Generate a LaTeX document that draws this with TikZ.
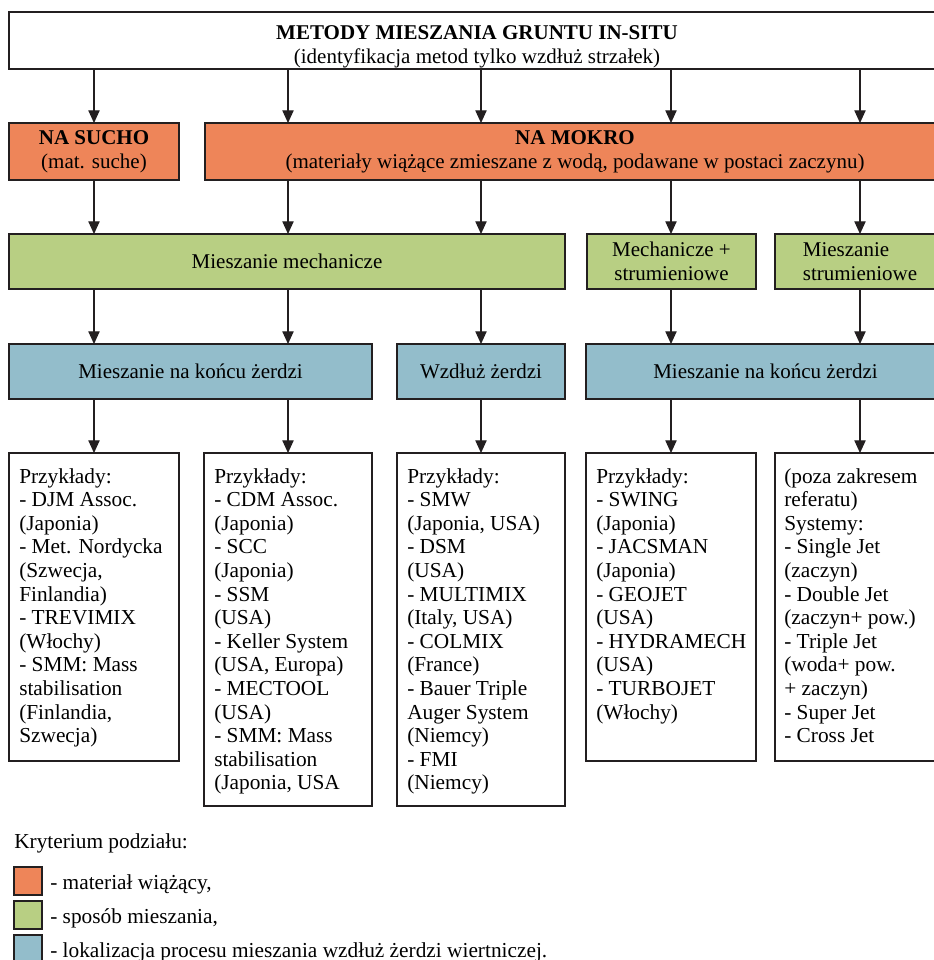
\documentclass[tikz,border=0pt]{standalone}
\usepackage{fontspec}
\setmainfont{Liberation Serif}
\usetikzlibrary{arrows.meta}

\definecolor{matcol}{HTML}{EE8559}
\definecolor{mixcol}{HTML}{B8CF83}
\definecolor{loccol}{HTML}{93BDCB}
\definecolor{linecol}{HTML}{231F20}

\tikzset{
    boxsize/.style 2 args={anchor=north west, outer sep=0pt, minimum width=#1*0.75pt, minimum height=#2*0.75pt},
    box/.style={draw=linecol, line width=2pt, inner sep=0pt, align=center, font=\fontsize{15.75}{18}\selectfont},
    matbox/.style={box, fill=matcol},
    mixbox/.style={box, fill=mixcol},
    locbox/.style={box, fill=loccol},
    exbox/.style={draw=linecol, line width=1.5pt, inner sep=0pt},
    extext/.style={anchor=north west, inner sep=0pt, align=left, font=\fontsize{16}{17.7}\selectfont},
    arr/.style={draw=linecol, line width=0.8pt, -{Triangle[width=8.5pt,length=9.5pt]}},
}

\begin{document}
\begin{tikzpicture}[x=0.75pt, y=-0.75pt]
        \useasboundingbox[fill=white] (0, 0) rectangle (933, 960);

        % rows of the tree
        \node[box, line width=1.5pt, boxsize={936}{57}] (top) at (9, 12) {\rule{0pt}{20pt}\textbf{METODY MIESZANIA GRUNTU IN-SITU}\\(identyfikacja metod tylko wzdłuż strzałek)};
        \node[matbox, boxsize={170}{57}] (sucho) at (9, 123) {\textbf{NA SUCHO}\\(mat. suche)};
        \node[matbox, boxsize={740}{57}] (mokro) at (205, 123) {\textbf{NA MOKRO}\\(materiały wiążące zmieszane z wodą, podawane w postaci zaczynu)};
        \node[mixbox, boxsize={556}{55}] (mech) at (9, 234) {Mieszanie mechanicze};
        \node[mixbox, boxsize={169}{55}] (mechjet) at (587, 234) {Mechanicze +\\strumieniowe};
        \node[mixbox, align=left, boxsize={170}{55}] (jet) at (775, 234) {Mieszanie\\strumieniowe};
        \node[locbox, boxsize={363}{55}] (endA) at (9, 344) {Mieszanie na końcu żerdzi};
        \node[locbox, boxsize={168}{55}] (along) at (397, 344) {Wzdłuż żerdzi};
        \node[locbox, boxsize={359}{55}] (endB) at (586, 344) {Mieszanie na końcu żerdzi};

        % examples
        \node[exbox, boxsize={170}{308}] (exA) at (9, 453) {};
        \node[exbox, boxsize={168}{353}] (exB) at (204, 453) {};
        \node[exbox, boxsize={168}{353}] (exC) at (397, 453) {};
        \node[exbox, boxsize={170}{308}] (exD) at (586, 453) {};
        \node[exbox, boxsize={170}{308}] (exE) at (775, 453) {};

        \node[extext] (txA) at ([shift={(10, 15)}]exA.north west) {Przykłady:\\- DJM Assoc.\\(Japonia)\\- Met. Nordycka\\(Szwecja,\\Finlandia)\\- TREVIMIX\\(Włochy)\\- SMM: Mass\\stabilisation\\(Finlandia,\\Szwecja)};
        \node[extext] (txB) at ([shift={(10, 15)}]exB.north west) {Przykłady:\\- CDM Assoc.\\(Japonia)\\- SCC\\(Japonia)\\- SSM\\(USA)\\- Keller System\\(USA, Europa)\\- MECTOOL\\(USA)\\- SMM: Mass\\stabilisation\\(Japonia, USA};
        \node[extext] (txC) at ([shift={(10, 15)}]exC.north west) {Przykłady:\\- SMW\\(Japonia, USA)\\- DSM\\(USA)\\- MULTIMIX\\(Italy, USA)\\- COLMIX\\(France)\\- Bauer Triple\\Auger System\\(Niemcy)\\- FMI\\(Niemcy)};
        \node[extext] (txD) at ([shift={(10, 15)}]exD.north west) {Przykłady:\\- SWING\\(Japonia)\\- JACSMAN\\(Japonia)\\- GEOJET\\(USA)\\- HYDRAMECH\\(USA)\\- TURBOJET\\(Włochy)};
        \node[extext] (txE) at ([shift={(9, 15)}]exE.north west) {(poza zakresem\\referatu)\\Systemy:\\- Single Jet\\(zaczyn)\\- Double Jet\\(zaczyn+ pow.)\\- Triple Jet\\(woda+ pow.\\+ zaczyn)\\- Super Jet\\- Cross Jet};

        \foreach \a/\b/\c in {top/sucho/exA, top/mokro/exB, top/mokro/exC, top/mokro/exD, top/mokro/exE,
            sucho/mech/exA, mokro/mech/exB, mokro/mech/exC, mokro/mechjet/exD, mokro/jet/exE,
            mech/endA/exA, mech/endA/exB, mech/along/exC, mechjet/endB/exD, jet/endB/exE,
            endA/exA/exA, endA/exB/exB, along/exC/exC, endB/exD/exD, endB/exE/exE} {
            \draw[arr] (\a.south -| \c) -- (\b.north -| \c);
        }

        % legend
        \node[extext, anchor=west] (crit) at (14, 843) {Kryterium podziału:};
        \node[matbox, boxsize={28}{28}] (legA) at (14, 867) {};
        \node[mixbox, boxsize={28}{28}] (legB) at (14, 901) {};
        \node[locbox, boxsize={28}{28}] (legC) at (14, 935) {};
        \node[extext, anchor=west] (legAt) at ([shift={(8, 3)}]legA.east) {- materiał wiążący,};
        \node[extext, anchor=west] (legBt) at ([shift={(8, 3)}]legB.east) {- sposób mieszania,};
        \node[extext, anchor=west] (legCt) at ([shift={(8, 3)}]legC.east) {- lokalizacja procesu mieszania wzdłuż żerdzi wiertniczej.};
\end{tikzpicture}
\end{document}
